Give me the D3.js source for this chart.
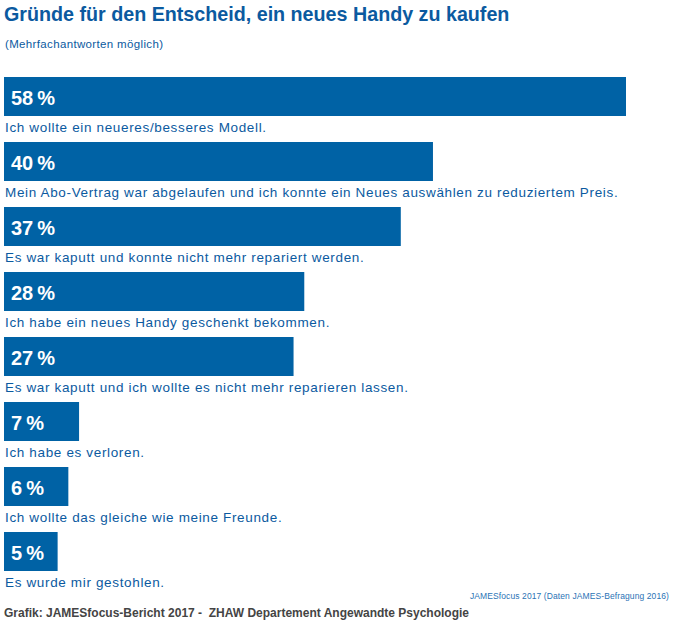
<!DOCTYPE html>
<html>
<head>
<meta charset="utf-8">
<script src="https://cdn.jsdelivr.net/npm/d3@7"></script>
<style>
  body { margin: 0; background: #fff; }
  text { font-family: "Liberation Sans", Arial, sans-serif; }
</style>
</head>
<body>
<script>
var reasons = [
  "Ich wollte ein neueres/besseres Modell.",
  "Mein Abo-Vertrag war abgelaufen und ich konnte ein Neues auswählen zu reduziertem Preis.",
  "Es war kaputt und konnte nicht mehr repariert werden.",
  "Ich habe ein neues Handy geschenkt bekommen.",
  "Es war kaputt und ich wollte es nicht mehr reparieren lassen.",
  "Ich habe es verloren.",
  "Ich wollte das gleiche wie meine Freunde.",
  "Es wurde mir gestohlen."
];
var percents = [58, 40, 37, 28, 27, 7, 6, 5];

var width = 684;
var height = 625;
var blue = "#0062a5";
var textBlue = "#0b5aa0";

var svg = d3.select("body")
  .append("svg")
  .attr("width", width)
  .attr("height", height);

var xScale = d3.scaleLinear()
  .domain([0, 58])
  .range([4, 626]);

var yScale = d3.scaleBand()
  .domain(d3.range(reasons.length))
  .range([77, 77 + 65 * reasons.length])
  .paddingInner(0);

var barHeight = 39;

// title
svg.append("text")
  .attr("x", 4)
  .attr("y", 21)
  .attr("fill", textBlue)
  .attr("font-size", 19.7)
  .attr("font-weight", "bold")
  .text("Gründe für den Entscheid, ein neues Handy zu kaufen");

svg.append("text")
  .attr("x", 5)
  .attr("y", 48)
  .attr("fill", textBlue)
  .attr("font-size", 11.5)
  .attr("letter-spacing", 0.35)
  .text("(Mehrfachantworten möglich)");

var rows = svg.selectAll("g.row")
  .data(percents)
  .enter()
  .append("g")
  .attr("class", "row")
  .attr("transform", function(d, i) { return "translate(0," + yScale(i) + ")"; });

rows.append("rect")
  .attr("x", xScale(0))
  .attr("y", 0)
  .attr("width", function(d) { return xScale(d) - xScale(0); })
  .attr("height", barHeight)
  .attr("fill", blue);

rows.append("text")
  .attr("x", 11)
  .attr("y", 27.5)
  .attr("fill", "#fff")
  .attr("font-size", 20)
  .attr("font-weight", "bold")
  .text(function(d) { return d + "\u2009%"; });

rows.append("text")
  .attr("x", 5)
  .attr("y", 55)
  .attr("fill", textBlue)
  .attr("font-size", 13.5)
  .attr("letter-spacing", 0.65)
  .text(function(d, i) { return reasons[i]; });

// source
svg.append("text")
  .attr("x", 669)
  .attr("y", 599)
  .attr("text-anchor", "end")
  .attr("fill", "#2a73b5")
  .attr("font-size", 8.5)
  .attr("letter-spacing", 0.1)
  .text("JAMESfocus 2017 (Daten JAMES-Befragung 2016)");

svg.append("text")
  .attr("x", 4)
  .attr("y", 617)
  .attr("fill", "#444")
  .attr("font-size", 12)
  .attr("font-weight", "bold")
  .attr("xml:space", "preserve")
  .style("white-space", "pre")
  .text("Grafik: JAMESfocus-Bericht 2017 -  ZHAW Departement Angewandte Psychologie");
</script>
</body>
</html>
